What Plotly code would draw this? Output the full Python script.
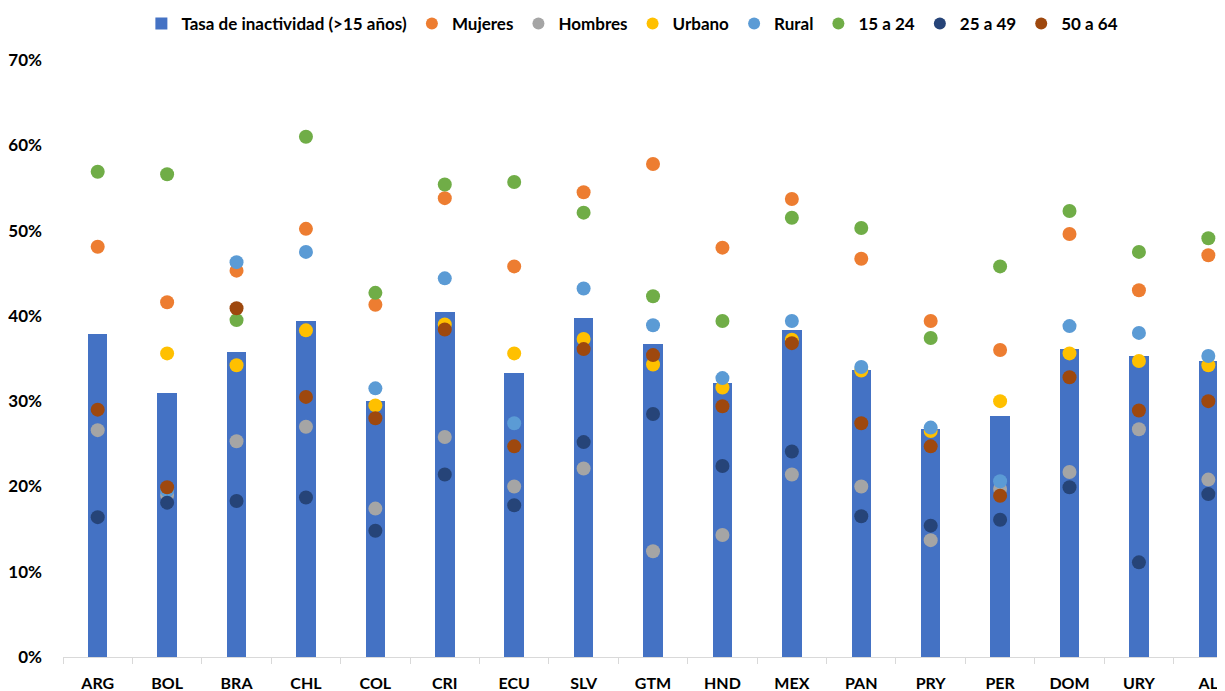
import plotly.graph_objects as go

categories = ["ARG", "BOL", "BRA", "CHL", "COL", "CRI", "ECU", "SLV", "GTM",
              "HND", "MEX", "PAN", "PRY", "PER", "DOM", "URY", "AL"]

tasa_total = [0.379, 0.310, 0.358, 0.394, 0.300, 0.405, 0.333, 0.397, 0.367,
              0.321, 0.384, 0.337, 0.267, 0.282, 0.361, 0.353, 0.347]
mujeres = [0.481, 0.416, 0.453, 0.502, 0.413, 0.538, 0.458, 0.545, 0.578,
           0.480, 0.537, 0.467, 0.394, 0.360, 0.496, 0.430, 0.471]
hombres = [0.266, 0.190, 0.253, 0.270, 0.174, 0.258, 0.200, 0.221, 0.124,
           0.143, 0.214, 0.200, 0.137, 0.197, 0.217, 0.267, 0.208]
urbano = [None, 0.356, 0.342, 0.383, 0.295, 0.390, 0.356, 0.373, 0.343,
          0.316, 0.372, 0.336, 0.265, 0.300, 0.356, 0.347, 0.342]
rural = [None, 0.195, 0.463, 0.475, 0.315, 0.444, 0.274, 0.432, 0.389,
         0.327, 0.394, 0.340, 0.269, 0.206, 0.388, 0.380, 0.353]
edad_15_24 = [0.569, 0.566, 0.395, 0.610, 0.427, 0.554, 0.557, 0.521, 0.423,
              0.394, 0.515, 0.503, 0.374, 0.458, 0.523, 0.475, 0.491]
edad_25_49 = [0.164, 0.181, 0.183, 0.187, 0.148, 0.214, 0.178, 0.252, 0.285,
              0.224, 0.241, 0.165, 0.154, 0.161, 0.199, 0.111, 0.191]
edad_50_64 = [0.290, 0.199, 0.409, 0.305, 0.280, 0.384, 0.247, 0.361, 0.354,
              0.294, 0.368, 0.274, 0.247, 0.189, 0.328, 0.289, 0.300]

y_ticks = [0, 0.1, 0.2, 0.3, 0.4, 0.5, 0.6, 0.7]

FONT = "Lato"

fig = go.Figure()
fig.add_trace(go.Bar(
    x=categories, y=tasa_total, name="Tasa de inactividad (>15 años)",
    marker=dict(color="#4472C4", line=dict(width=0)), width=0.28,
))

series = [
    ("Mujeres", mujeres, "#ED7D31"),
    ("Hombres", hombres, "#A5A5A5"),
    ("Urbano", urbano, "#FFC000"),
    ("Rural", rural, "#5B9BD5"),
    ("15 a 24", edad_15_24, "#70AD47"),
    ("25 a 49", edad_25_49, "#264478"),
    ("50 a 64", edad_50_64, "#9E480E"),
]
for name, vals, color in series:
    fig.add_trace(go.Scatter(
        x=categories, y=vals, name=name, mode="markers",
        marker=dict(color=color, size=14, line=dict(width=0)),
    ))

# The page body adds an 8px offset; the figure is sized so that the plot
# fills the window up to its right and bottom edges.
fig.update_layout(
    width=1217, height=683,
    margin=dict(l=55, r=0, t=52, b=34),
    paper_bgcolor="white", plot_bgcolor="white",
    font=dict(family=FONT, size=16, color="#000000", weight="bold"),
    showlegend=True,
    legend=dict(
        orientation="h", x=0.49, xanchor="center",
        yref="container", y=0.9766, yanchor="middle",
        font=dict(family=FONT, size=17, color="#000000", weight="bold"),
        itemsizing="constant", traceorder="normal",
        bgcolor="rgba(0,0,0,0)",
    ),
    bargap=0,
)
fig.update_xaxes(
    type="category", range=[-0.5, 16.24],
    showline=True, linecolor="#D9D9D9", linewidth=1,
    ticks="outside", tickson="boundaries", ticklen=6, tickcolor="#D9D9D9",
    showgrid=False, ticklabelstandoff=12,
    tickfont=dict(family=FONT, size=16, color="#000000", weight="bold"),
)
fig.update_yaxes(
    range=[0, 0.70], tickvals=y_ticks, tickformat=".0%",
    showgrid=False, zeroline=False, showline=False,
    ticklabelstandoff=20,
    tickfont=dict(family=FONT, size=17, color="#000000", weight="bold"),
)

fig.write_html("out.html")
